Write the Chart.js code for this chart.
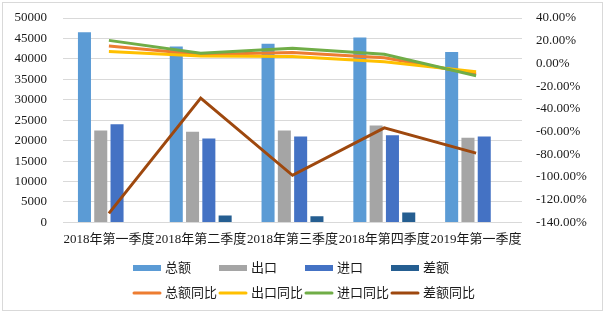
<!DOCTYPE html>
<html lang="zh">
<head>
<meta charset="UTF-8">
<title>进出口季度对比</title>
<script src="https://cdn.jsdelivr.net/npm/chart.js"></script>
<style>
  body { margin: 0; background: #fff; }
  .chart-box {
    position: absolute; left: 2px; top: 2px;
    width: 601px; height: 309px;
    border: 1px solid #d9d9d9; box-sizing: border-box;
  }
  canvas { display: block; }
</style>
</head>
<body>
<div class="chart-box">
  <canvas id="myChart" width="599" height="307"></canvas>
</div>
<script>
  // values
  const quarters = ['2018年第一季度', '2018年第二季度', '2018年第三季度', '2018年第四季度', '2019年第一季度'];
  const totalValues = [46500, 43000, 43700, 45200, 41700];
  const exportValues = [22500, 22200, 22500, 23700, 20700];
  const importValues = [24000, 20500, 21000, 21300, 21000];
  const balanceValues = [-1500, 1700, 1500, 2400, -300];
  const totalYoY = [15.3, 7.8, 9.7, 5.0, -9.4];
  const exportYoY = [10.6, 6.5, 6.2, 1.5, -7.4];
  const importYoY = [20.3, 8.9, 13.3, 8.0, -10.9];
  const balanceYoY = [-132, -30.6, -98.5, -56.8, -79];

  const FONT = '"Liberation Serif", "Times New Roman", "Noto Sans CJK SC", serif';
  const TEXT = '#1a1a1a';

  const bar = (label, data, color) => ({
    type: 'bar', label, data, backgroundColor: color,
    yAxisID: 'y', order: 5,
    categoryPercentage: 0.71, barPercentage: 0.8
  });
  const line = (label, data, color, order) => ({
    type: 'line', label, data, borderColor: color, backgroundColor: color,
    yAxisID: 'y1', borderWidth: 3, pointRadius: 0, tension: 0, order
  });

  // legend laid out in a grid like the original
  const gridLegend = {
    id: 'gridLegend',
    afterDraw(chart) {
      const ctx = chart.ctx;
      const cols = [130, 216, 302, 388];
      const rows = [265, 290];
      ctx.save();
      ctx.font = '13px ' + FONT;
      ctx.textBaseline = 'middle';
      chart.data.datasets.forEach((ds, i) => {
        const x = cols[i % 4];
        const y = rows[i < 4 ? 0 : 1];
        if (ds.type === 'bar') {
          ctx.fillStyle = ds.backgroundColor;
          ctx.fillRect(x, y - 3, 28, 6);
        } else {
          ctx.strokeStyle = ds.borderColor;
          ctx.lineWidth = 3;
          ctx.lineCap = 'round';
          ctx.beginPath();
          ctx.moveTo(x + 1, y);
          ctx.lineTo(x + 27, y);
          ctx.stroke();
        }
        ctx.fillStyle = TEXT;
        ctx.fillText(ds.label, x + 32, y + 1);
      });
      ctx.restore();
    }
  };

  const myChart = new Chart(document.getElementById('myChart'), {
    data: {
      labels: quarters,
      datasets: [
        bar('总额', totalValues, '#5b9bd5'),
        bar('出口', exportValues, '#a5a5a5'),
        bar('进口', importValues, '#4472c4'),
        bar('差额', balanceValues, '#255e91'),
        line('总额同比', totalYoY, '#ed7d31', 4),
        line('出口同比', exportYoY, '#ffc000', 3),
        line('进口同比', importYoY, '#70ad47', 2),
        line('差额同比', balanceYoY, '#9e480e', 1)
      ]
    },
    options: {
      responsive: false,
      animation: false,
      layout: { padding: { left: 9, right: 9, top: 15, bottom: 54 } },
      plugins: {
        legend: { display: false },
        tooltip: { enabled: false }
      },
      scales: {
        x: {
          grid: { display: false, drawTicks: false },
          border: { display: false },
          ticks: {
            autoSkip: false, maxRotation: 0, minRotation: 0, padding: 9,
            color: TEXT, font: { family: FONT, size: 13 }
          },
          afterFit: s => { s.paddingLeft = 0; s.paddingRight = 0; }
        },
        y: {
          position: 'left',
          min: 0, max: 50000,
          grid: { color: '#d9d9d9', drawTicks: false },
          border: { display: false },
          ticks: {
            stepSize: 5000, padding: 16, autoSkip: false,
            color: TEXT, font: { family: FONT, size: 13 },
            callback: v => String(v)
          },
          afterFit: s => { s.width = 51; s.paddingTop = 0; s.paddingBottom = 0; }
        },
        y1: {
          position: 'right',
          min: -140, max: 40,
          grid: { display: false, drawTicks: false },
          border: { display: false },
          ticks: {
            stepSize: 20, padding: 14, autoSkip: false,
            color: TEXT, font: { family: FONT, size: 13 },
            callback: v => v.toFixed(2) + '%'
          },
          afterFit: s => { s.width = 71; s.paddingTop = 0; s.paddingBottom = 0; }
        }
      }
    },
    plugins: [gridLegend]
  });
</script>
</body>
</html>
